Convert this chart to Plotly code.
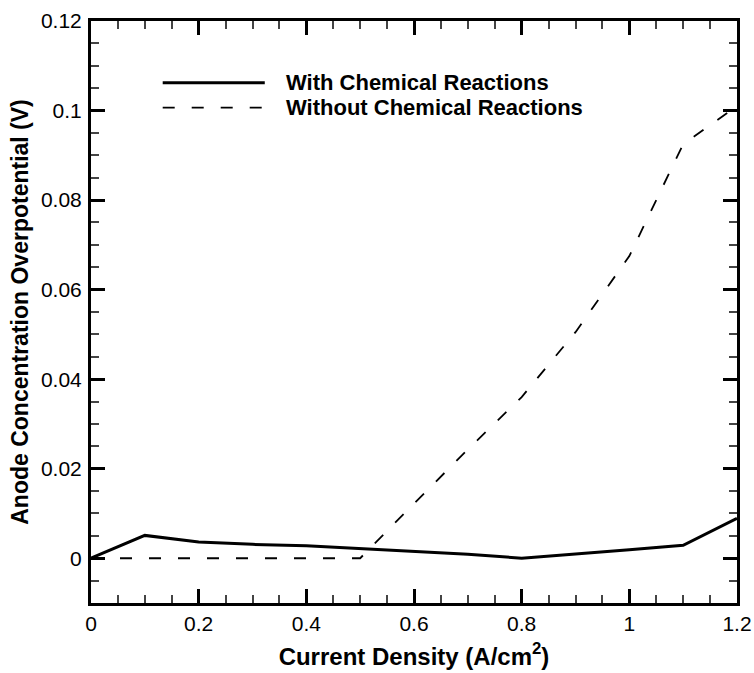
import plotly.graph_objects as go

current_density = [0.0, 0.1, 0.2, 0.3, 0.4, 0.5, 0.6, 0.7, 0.8, 0.9, 1.0, 1.1, 1.2]
with_reactions = [0.0, 0.0051, 0.0036, 0.0031, 0.0028, 0.0022, 0.0016, 0.0009, 0.0, 0.0009, 0.0019, 0.0029, 0.0089]
without_reactions = [0.0, 0.0, 0.0, 0.0, 0.0, 0.0, 0.0122, 0.0243, 0.036, 0.0505, 0.0675, 0.0925, 0.101]

x_ticks = [0, 0.2, 0.4, 0.6, 0.8, 1.0, 1.2]
x_tick_text = ["0", "0.2", "0.4", "0.6", "0.8", "1", "1.2"]
y_ticks = [0, 0.02, 0.04, 0.06, 0.08, 0.1, 0.12]
y_tick_text = ["0", "0.02", "0.04", "0.06", "0.08", "0.1", "0.12"]

series_names = ["With Chemical Reactions", "Without Chemical Reactions"]

FONT = "Liberation Sans, Arial, Helvetica, sans-serif"
DASH = "12px,17px"

fig = go.Figure()
fig.add_trace(go.Scatter(x=current_density, y=with_reactions, mode="lines",
                         line=dict(color="black", width=3), name=series_names[0],
                         showlegend=False))
fig.add_trace(go.Scatter(x=current_density, y=without_reactions, mode="lines",
                         line=dict(color="black", width=1.8, dash=DASH), name=series_names[1],
                         showlegend=False))

axis_common = dict(
    showgrid=False, zeroline=False, showline=True, linecolor="black", linewidth=3,
    ticks="inside", ticklen=14, tickwidth=3, tickcolor="black", mirror="allticks",
    tickfont=dict(family=FONT, size=21, color="black"), automargin=False,
)

fig.update_xaxes(range=[0, 1.2], tickvals=x_ticks, ticktext=x_tick_text,
                 minor=dict(dtick=0.05, tick0=0, ticks="inside", ticklen=8, tickwidth=1.5, tickcolor="#444"),
                 title=dict(text="Current Density (A/cm<sup>2</sup>)", standoff=14,
                            font=dict(family=FONT, size=24, color="black", weight="bold")),
                 **axis_common)
fig.update_yaxes(range=[-0.01, 0.12], tickvals=y_ticks, ticktext=y_tick_text,
                 ticklabelstandoff=2,
                 minor=dict(dtick=0.005, tick0=0, ticks="inside", ticklen=8, tickwidth=1.5, tickcolor="#444"),
                 title=dict(text="Anode Concentration Overpotential (V)", standoff=6,
                            font=dict(family=FONT, size=23, color="black", weight="bold")),
                 **axis_common)

# Legend drawn manually (long line samples)
legend_rows = [(0.894, "solid", 3), (0.851, DASH, 1.8)]
for (yp, dash, w), name in zip(legend_rows, series_names):
    fig.add_shape(type="line", xref="paper", yref="paper", x0=0.111, x1=0.269, y0=yp, y1=yp,
                  line=dict(color="black", width=w, dash=dash))
    fig.add_annotation(xref="paper", yref="paper", x=0.299, y=yp, xanchor="left", yanchor="middle",
                       text="<b>%s</b>" % name, showarrow=False,
                       font=dict(family=FONT, size=22, color="black"))

fig.update_layout(
    width=754, height=673,
    margin=dict(l=91, r=17, t=21, b=70),
    paper_bgcolor="white", plot_bgcolor="white",
    font=dict(family=FONT, color="black"),
)

fig.write_html("out.html")
